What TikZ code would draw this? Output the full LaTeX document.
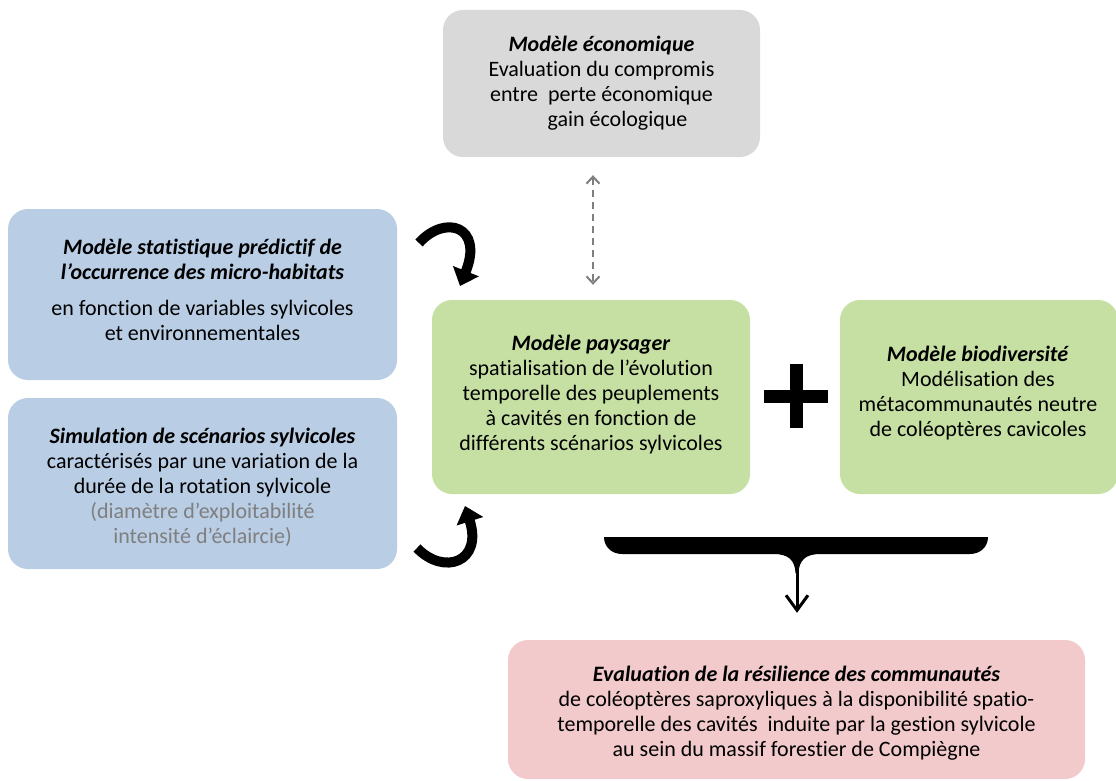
\documentclass[tikz,border=0pt]{standalone}
\usepackage{fontspec}
\setmainfont{Carlito}[Ligatures={NoCommon}]
\usetikzlibrary{arrows.meta}
\definecolor{boxgray}{HTML}{D9D9D9}
\definecolor{boxblue}{HTML}{B9CDE5}
\definecolor{boxgreen}{HTML}{C6E0A4}
\definecolor{boxpink}{HTML}{F2CACC}
\definecolor{txtgray}{HTML}{7F7F7F}
\definecolor{dashgray}{HTML}{7F7F7F}
\begin{document}
\begin{tikzpicture}[x=1pt,y=-1pt,
  panel/.style={rounded corners=20pt, inner sep=0pt, draw=none},
  txt/.style={align=center, inner sep=0pt, font=\fontsize{22}{25}\selectfont},
  curvy/.style={line width=10pt, -{Triangle[length=16pt 0,width=27pt 0]}},
  dasharrow/.style={dashgray, line width=2pt, dash pattern=on 7pt off 5pt,
    {Straight Barb[length=7pt 0,width=13pt 0,line width=2pt]}-{Straight Barb[length=7pt 0,width=13pt 0,line width=2pt]}},
  downarrow/.style={line width=3pt, -{Straight Barb[length=15pt 0,width=22pt 0,line width=3pt]}}
]
\useasboundingbox (0,0) rectangle (1116,781);
\fill[white] (0,0) rectangle (1116,781);

% boxes
\node[panel, fill=boxgray, minimum width=317pt, minimum height=147pt] (gray) at (601.5,83.5) {};
\node[panel, fill=boxblue, minimum width=389pt, minimum height=171pt] (blue1) at (202.5,294.5) {};
\node[panel, fill=boxblue, minimum width=389pt, minimum height=171pt] (blue2) at (202.5,483.5) {};
\node[panel, fill=boxgreen, minimum width=318pt, minimum height=194pt] (green1) at (591,397) {};
\node[panel, fill=boxgreen, minimum width=278pt, minimum height=194pt] (green2) at (979,397) {};
\node[panel, fill=boxpink, minimum width=577pt, minimum height=139pt] (pink) at (796.5,709.5) {};

% texts
\node[txt] (grayt) at (601.5,83.5) {\textbf{\textit{Modèle économique}}\\Evaluation du compromis\\entre\ \ perte économique\\\hspace*{32pt}gain écologique};
\node[txt] (blue1t) at (202.5,290) {\textbf{\textit{Modèle statistique prédictif de}}\\\textbf{\textit{l’occurrence des micro-habitats}}\\[11pt]en fonction de variables sylvicoles\\et environnementales};
\node[txt] (blue2t) at (202.5,487) {\textbf{\textit{Simulation de scénarios sylvicoles}}\\caractérisés par une variation de la\\durée de la rotation sylvicole\\\textcolor{txtgray}{(diamètre d’exploitabilité}\\\textcolor{txtgray}{intensité d’éclaircie)}};
\node[txt] (green1t) at (591,395) {\textbf{\textit{Modèle paysager}}\\spatialisation de l’évolution\\temporelle des peuplements\\à cavités en fonction de\\différents scénarios sylvicoles};
\node[txt] (green2t) at (978,393) {\textbf{\textit{Modèle biodiversité}}\\Modélisation des\\métacommunautés neutre\\de coléoptères cavicoles};
\node[txt] (pinkt) at (796.5,713) {\textbf{\textit{Evaluation de la résilience des communautés}}\\de coléoptères saproxyliques à la disponibilité spatio-\\temporelle des cavités\ \ induite par la gestion sylvicole\\au sein du massif forestier de Compiègne};

% dashed double arrow between economic and landscape model
\draw[dasharrow] ([xshift=-8.5pt,yshift=-18pt]gray.south) -- ([xshift=2pt,yshift=15pt]green1.north);

% curved arrows
\coordinate (c1s) at (419,243);
\coordinate (c1e) at (460,286);
\draw[curvy] (c1s) .. controls (445,214) and (484,226) .. (c1e);
\coordinate (c2s) at (417,548);
\coordinate (c2e) at (465,506);
\draw[curvy] (c2s) .. controls (444,576) and (483,562) .. (c2e);

% plus sign
\fill (764,390) rectangle (828,403);
\fill (790,364) rectangle (803,428);

% brace
\fill (604,537) -- (988,537) .. controls (988,547) and (980,554) .. (970,554)
  -- (820,554) .. controls (806,554) and (799,560) .. (798.5,573)
  -- (795.5,573) .. controls (795,560) and (788,554) .. (774,554)
  -- (622,554) .. controls (612,554) and (604,547) .. (604,537) -- cycle;
\coordinate (brtip) at (797,570);
\draw[downarrow] (brtip) -- ([xshift=0.5pt,yshift=27pt]pink.north);
\end{tikzpicture}
\end{document}
